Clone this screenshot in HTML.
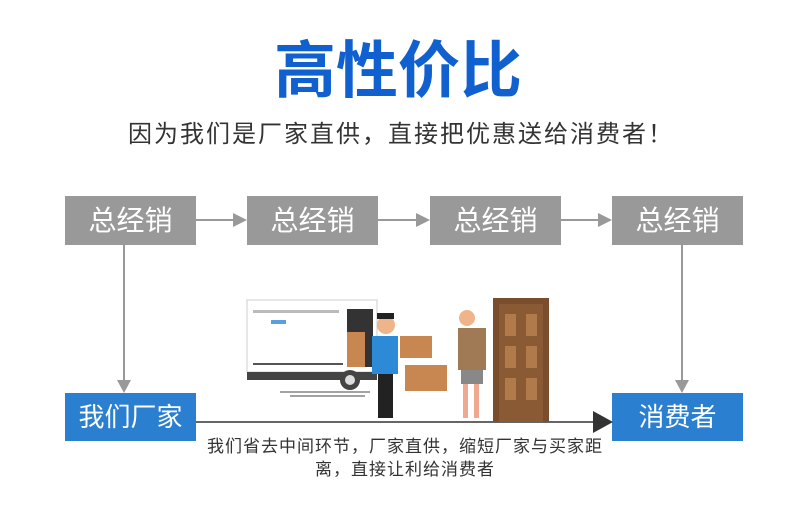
<!DOCTYPE html>
<html><head><meta charset="utf-8"><style>
body{margin:0;width:790px;height:516px;background:#fff;position:relative;overflow:hidden;font-family:"Liberation Sans","Noto Sans CJK SC",sans-serif}
.a{position:absolute}
.g{position:absolute;background:#999;color:#fff;font-size:28px;text-align:center;line-height:49px;height:49px;width:131px;top:196px}
.b{position:absolute;background:#2b7fd0;color:#fff;font-size:26px;text-align:center;line-height:48px;height:48px;width:131px;top:393px}
</style></head><body>
<div class="a" style="left:3px;width:790px;top:34px;text-align:center;font-size:62px;font-weight:bold;color:#1160d0;line-height:76px">高性价比</div>
<div class="a" style="left:128px;top:120px;font-size:24px;letter-spacing:2px;color:#333;line-height:30px">因为我们是厂家直供，直接把优惠送给消费者！</div>
<div class="g" style="left:65px">总经销</div>
<div class="g" style="left:247px">总经销</div>
<div class="g" style="left:430px">总经销</div>
<div class="g" style="left:612px">总经销</div>
<div class="b" style="left:65px">我们厂家</div>
<div class="b" style="left:612px">消费者</div>
<svg class="a" style="left:0;top:0" width="790" height="516">
<g stroke="#999" stroke-width="2" fill="#999">
<line x1="196" y1="220" x2="234" y2="220"/><polygon points="233,213 247,220 233,227" stroke="none"/>
<line x1="378" y1="220" x2="417" y2="220"/><polygon points="416,213 430,220 416,227" stroke="none"/>
<line x1="560" y1="220" x2="599" y2="220"/><polygon points="598,213 612,220 598,227" stroke="none"/>
<line x1="124" y1="245" x2="124" y2="382"/><polygon points="117,380 124,393 131,380" stroke="none"/>
<line x1="682" y1="245" x2="682" y2="382"/><polygon points="675,380 682,393 689,380" stroke="none"/>
</g>
<line x1="196" y1="422" x2="595" y2="422" stroke="#666" stroke-width="2"/>
<polygon points="593,411 613,422 593,433" fill="#333"/>
<rect x="247" y="300" width="130" height="72" fill="#fff" stroke="#ccc"/>
<rect x="253" y="310" width="86" height="3" fill="#bbb"/>
<rect x="271" y="320" width="15" height="4" fill="#5aa0e0"/>
<rect x="253" y="363" width="90" height="2" fill="#555"/>
<rect x="347" y="309" width="26" height="58" fill="#333"/>
<rect x="347" y="332" width="18" height="35" fill="#c88650"/>
<rect x="247" y="372" width="130" height="8" fill="#444"/>
<circle cx="350" cy="380" r="10" fill="#444"/><circle cx="350" cy="380" r="5" fill="#ddd"/>
<line x1="280" y1="392" x2="370" y2="392" stroke="#444"/><line x1="290" y1="396" x2="365" y2="396" stroke="#444"/>
<rect x="372" y="336" width="26" height="38" fill="#2d8ad6"/>
<rect x="378" y="374" width="15" height="44" fill="#222"/>
<circle cx="386" cy="325" r="9" fill="#f0b48a"/><rect x="377" y="313" width="17" height="6" fill="#222"/>
<rect x="400" y="336" width="32" height="22" fill="#c88650"/>
<rect x="405" y="365" width="42" height="26" fill="#c88650"/>
<circle cx="467" cy="318" r="8" fill="#f0b48a"/>
<rect x="458" y="328" width="28" height="42" fill="#a07a55"/>
<rect x="461" y="370" width="22" height="14" fill="#888"/>
<rect x="463" y="384" width="5" height="34" fill="#f0a890"/><rect x="474" y="384" width="5" height="34" fill="#f0a890"/>
<rect x="493" y="298" width="56" height="124" fill="#7a4e2d"/>
<rect x="499" y="304" width="44" height="118" fill="#8a5a35"/>
<g fill="#b07a4a"><rect x="505" y="314" width="11" height="22"/><rect x="526" y="314" width="11" height="22"/><rect x="505" y="346" width="11" height="22"/><rect x="526" y="346" width="11" height="22"/><rect x="505" y="378" width="11" height="22"/><rect x="526" y="378" width="11" height="22"/></g>
</svg>
<div class="a" style="left:190px;width:430px;top:435px;text-align:center;font-size:17px;letter-spacing:1px;color:#333;line-height:23px">我们省去中间环节，厂家直供，缩短厂家与买家距<br>离，直接让利给消费者</div>
</body></html>
